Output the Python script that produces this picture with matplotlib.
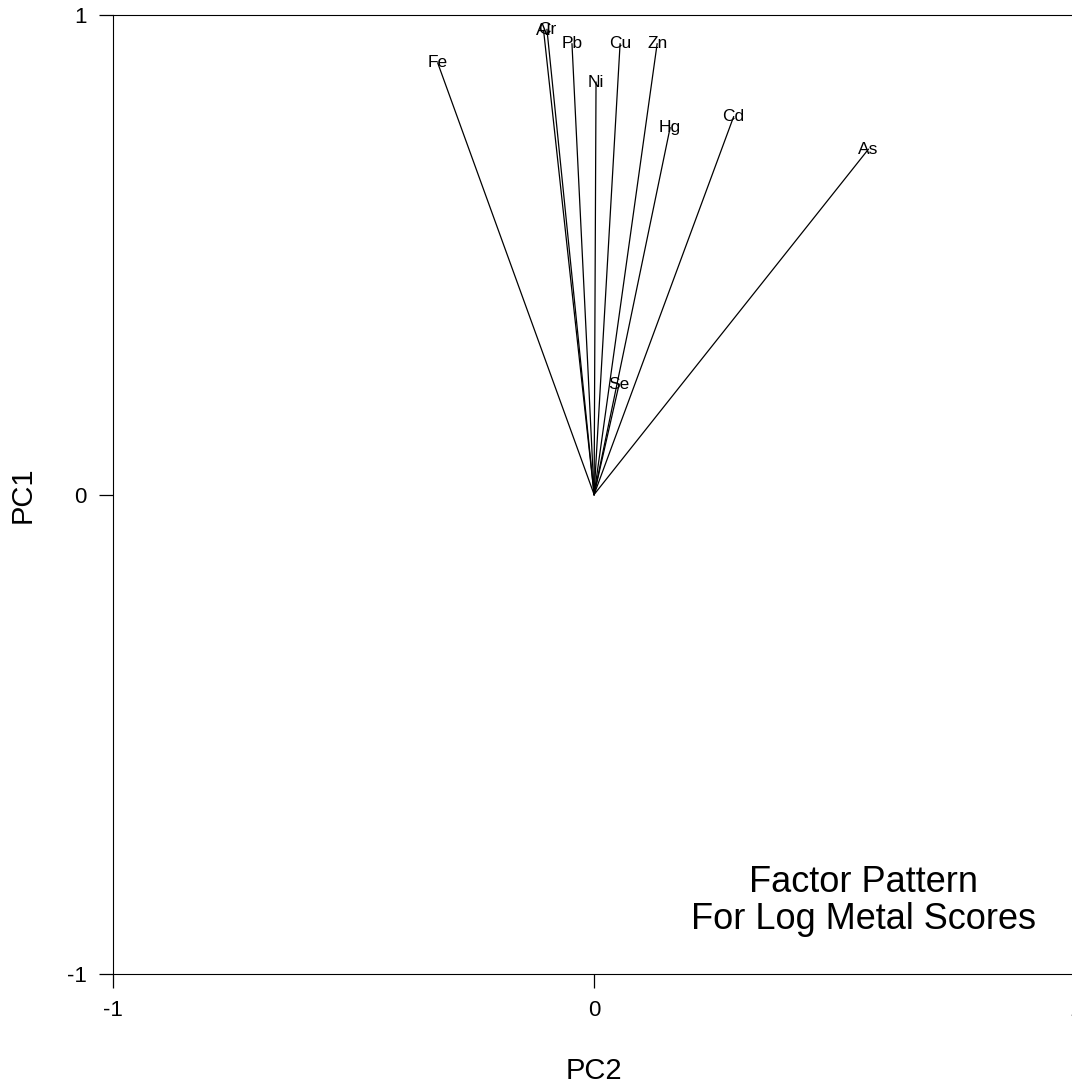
import matplotlib.pyplot as plt

# factor loadings
metals = ["Fe", "Al", "Cr", "Pb", "Ni", "Cu", "Zn", "Hg", "Cd", "As", "Se"]
pc2 = [-0.325, -0.105, -0.098, -0.046, 0.004, 0.054, 0.131, 0.158, 0.290, 0.570, 0.052]
pc1 = [0.900, 0.968, 0.970, 0.940, 0.860, 0.940, 0.940, 0.765, 0.788, 0.720, 0.230]

plt.rcParams['font.family'] = ['Liberation Sans', 'DejaVu Sans']
plt.rcParams['axes.unicode_minus'] = False

fig = plt.figure(figsize=(10.72, 10.9), dpi=100)
ax = fig.add_axes([0.1054, 0.1064, 0.8976, 0.8798])

for name, x, y in zip(metals, pc2, pc1):
    ax.plot([0, x], [0, y], color="black", linewidth=0.9)
    ax.text(x, y, name, ha="center", va="center", fontsize=12.5)

ax.text(0.56, -0.848, "Factor Pattern\nFor Log Metal Scores", ha="center", va="center",
        fontsize=26, linespacing=1.06)

ax.set_xlim(-1, 1)
ax.set_ylim(-1, 1)
ax.set_xticks([-1, 0, 1])
ax.set_yticks([-1, 0, 1])
ax.tick_params(direction="out", length=10, width=0.9, labelsize=16, pad=9)
ax.set_xlabel("PC2", fontsize=21)
ax.set_ylabel("PC1", fontsize=21)
ax.xaxis.set_label_coords(0.5, -0.087)
ax.yaxis.set_label_coords(-0.079, 0.5)

plt.savefig("out.png", dpi=100)
